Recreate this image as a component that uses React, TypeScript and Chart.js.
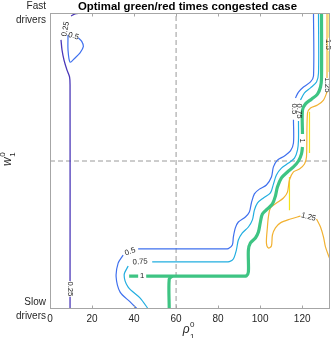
import React, { useEffect, useRef } from "react";
import { Chart, registerables } from "chart.js";

Chart.register(...registerables);

type P = [number, number];

const TITLE = "Optimal green/red times congested case";
const X_MIN = 0;
const X_MAX = 133;
const X_TICKS = [0, 20, 40, 60, 80, 100, 120];
const Y_TICKS = [0, 1];
const Y_TICK_LABELS: Record<number, string[]> = { 0: ["Slow", "drivers"], 1: ["Fast", "drivers"] };
const REF_X = 60;
const REF_Y = 0.5;

// contour level 0.25
const lvl025A: P[] = [[14.3, 1.0], [11.92, 0.997], [10.01, 0.99]];
const lvl025B: P[] = [[5.24, 0.909], [5.72, 0.875], [6.67, 0.841], [8.1, 0.807], [9.3, 0.784], [9.54, 0.757], [9.54, 0.095]];
const lvl025C: P[] = [[9.54, 0.041], [9.54, 0]];

// contour level 0.5
const lvl05Loop: P[] = [[8.58, 0.926], [8.58, 0.875], [9.54, 0.834], [11.92, 0.848], [14.3, 0.865], [15.89, 0.887], [15.1, 0.904], [13.51, 0.916]];
const lvl05A: P[] = [[41.48, 0], [38.14, 0.024], [33.37, 0.057], [31.47, 0.108], [32.42, 0.155], [34.8, 0.182]];
const lvl05B: P[] = [[41.95, 0.203], [82.5, 0.203], [84.86, 0.204], [86.77, 0.216], [87.25, 0.243], [88.2, 0.274], [89.63, 0.294], [92.97, 0.311], [94.87, 0.328], [95.83, 0.358], [97.26, 0.389], [99.64, 0.405], [102.98, 0.419], [105.36, 0.446], [106.32, 0.48], [108.22, 0.503], [111.56, 0.517], [114.42, 0.534], [115.85, 0.561], [115.85, 0.639]];
const lvl05C: P[] = [[116.81, 0.713], [118.24, 0.733], [120.62, 0.75], [123.96, 0.767], [125.39, 0.787], [125.39, 1.0]];

// contour level 0.75
const lvl075A: P[] = [[46.72, 0], [42.91, 0.037], [37.19, 0.074], [35.28, 0.115], [37.19, 0.145]];
const lvl075B: P[] = [[48.63, 0.159], [83.0, 0.159], [85.34, 0.16], [87.25, 0.169], [88.68, 0.199], [89.63, 0.233], [91.54, 0.257], [94.4, 0.277], [96.31, 0.301], [97.26, 0.334], [98.69, 0.358], [101.55, 0.375], [104.89, 0.392], [106.32, 0.422], [107.75, 0.453], [110.13, 0.476], [113.47, 0.493], [116.33, 0.51], [117.76, 0.537], [118.24, 0.571], [118.24, 0.635]];
const lvl075C: P[] = [[119.19, 0.706], [121.1, 0.73], [123.96, 0.747], [126.82, 0.767], [127.77, 0.797], [127.77, 1.0]];

// contour level 1
const lvl1Stub: P[] = [[56.73, 0], [56.73, 0.101], [58.16, 0.111]];
const lvl1A: P[] = [[37.66, 0.111], [41.95, 0.111]];
const lvl1B: P[] = [[45.77, 0.111], [91.5, 0.111], [93.44, 0.112], [94.4, 0.125], [94.4, 0.199], [95.35, 0.223], [97.74, 0.24], [99.17, 0.26], [100.12, 0.294], [101.07, 0.321], [103.46, 0.338], [105.84, 0.355], [107.27, 0.382], [108.22, 0.412], [110.13, 0.443], [112.99, 0.463], [115.85, 0.48], [118.24, 0.5], [119.67, 0.524], [120.14, 0.547]];
const lvl1C: P[] = [[120.14, 0.591], [120.14, 0.672], [121.57, 0.693], [124.43, 0.709], [127.29, 0.726], [128.72, 0.75], [129.2, 0.78], [129.2, 1.0]];

// contour level 1.25
const lvl125A: P[] = [[131.82, 1.0], [131.82, 0.78]];
const lvl125B: P[] = [[131.82, 0.733], [130.15, 0.706], [127.29, 0.689], [123.96, 0.679], [122.53, 0.662], [122.05, 0.514], [121.1, 0.49], [118.71, 0.473], [115.85, 0.463], [113.95, 0.436], [112.99, 0.395], [111.08, 0.375], [107.75, 0.358], [104.89, 0.341], [103.93, 0.311], [103.46, 0.277], [102.98, 0.223], [103.93, 0.206], [105.36, 0.213], [105.84, 0.25], [107.27, 0.274], [109.65, 0.291], [114.42, 0.304], [119.19, 0.314]];
const lvl125C: P[] = [[126.82, 0.304], [128.72, 0.277], [130.15, 0.243], [131.11, 0.209], [133.0, 0.172]];

// contour level 1.5
const lvl15A: P[] = [[132.8, 1.0], [132.8, 0.916]];
const lvl15B: P[] = [[132.8, 0.872], [132.8, 0.801]];
const lvl15C: P[] = [[123.48, 0.666], [123.48, 0.527]];
const lvl15D: P[] = [[113.95, 0.446], [113.95, 0.334]];

const contourLabels = [
  { text: "0.25", x: 7.39, y: 0.946, rot: -80 },
  { text: "0.25", x: 9.54, y: 0.068, rot: 90 },
  { text: "0.5", x: 11.2, y: 0.922, rot: 15 },
  { text: "0.5", x: 38.14, y: 0.194, rot: -20 },
  { text: "0.5", x: 116.2, y: 0.676, rot: 90 },
  { text: "0.75", x: 42.91, y: 0.159, rot: -4 },
  { text: "0.75", x: 118.6, y: 0.669, rot: 90 },
  { text: "1", x: 43.86, y: 0.111, rot: 0 },
  { text: "1", x: 120.14, y: 0.569, rot: 90 },
  { text: "1.25", x: 131.82, y: 0.757, rot: 90 },
  { text: "1.25", x: 123.0, y: 0.311, rot: 15 },
  { text: "1.5", x: 132.5, y: 0.894, rot: 90 },
];

const C025 = "#4a37b8";
const C05 = "#3f70ee";
const C075 = "#22aee0";
const C1 = "#3ec483";
const C125 = "#f2b232";
const C15 = "#f2e41a";
const FONT = '"Liberation Sans", Arial, Helvetica, sans-serif';

function line(pts: P[], color: string, width: number, order = 1) {
  return {
    type: "line" as const,
    data: pts.map(([x, y]) => ({ x, y })),
    borderColor: color,
    backgroundColor: color,
    borderWidth: width,
    pointRadius: 0,
    tension: 0.3,
    fill: false,
    order,
    borderJoinStyle: "round" as const,
    borderCapStyle: "butt" as const,
  };
}

const overlay = {
  id: "overlay",
  afterDatasetsDraw(chart: any) {
    const { ctx, chartArea, scales } = chart;
    const { left, right, top, bottom } = chartArea;
    const xs = scales.x;
    const ys = scales.y;
    ctx.save();
    // contour labels
    ctx.fillStyle = "#1e1e1e";
    ctx.font = `7.7px ${FONT}`;
    ctx.textAlign = "center";
    ctx.textBaseline = "middle";
    for (const l of contourLabels) {
      ctx.save();
      ctx.translate(xs.getPixelForValue(l.x), ys.getPixelForValue(l.y));
      ctx.rotate((l.rot * Math.PI) / 180);
      ctx.fillText(l.text, 0, 0);
      ctx.restore();
    }
    // box
    ctx.strokeStyle = "#a6a6a6";
    ctx.lineWidth = 1;
    const L = Math.round(left) + 0.5;
    const R = Math.round(right) - 0.5;
    const T = Math.round(top) + 0.5;
    const B = Math.round(bottom) - 0.5;
    ctx.strokeRect(L, T, R - L, B - T);
    // inward tick marks
    ctx.beginPath();
    for (const v of X_TICKS) {
      const px = Math.round(xs.getPixelForValue(v)) + 0.5;
      ctx.moveTo(px, B);
      ctx.lineTo(px, B - 3);
      ctx.moveTo(px, T);
      ctx.lineTo(px, T + 3);
    }
    ctx.stroke();
    ctx.restore();
  },
  afterDraw(chart: any) {
    const { ctx, chartArea } = chart;
    ctx.save();
    // title
    ctx.fillStyle = "#000";
    ctx.font = `bold 11.4px ${FONT}`;
    ctx.textAlign = "center";
    ctx.textBaseline = "alphabetic";
    ctx.fillText(TITLE, 187.5, 9.5);
    // x axis title
    ctx.fillStyle = "#262626";
    ctx.textAlign = "left";
    ctx.font = `italic 12px ${FONT}`;
    const cx = (chartArea.left + chartArea.right) / 2 - 7;
    ctx.fillText("ρ", cx, 333);
    const rw = ctx.measureText("ρ").width;
    ctx.font = `8px ${FONT}`;
    ctx.fillText("0", cx + rw + 0.5, 327);
    ctx.fillText("1", cx + rw + 0.5, 339);
    // y axis title
    ctx.save();
    ctx.translate(11, 166);
    ctx.rotate(-Math.PI / 2);
    ctx.font = `italic 12px ${FONT}`;
    ctx.fillText("w", 0, 0);
    const ww = ctx.measureText("w").width;
    ctx.font = `8px ${FONT}`;
    ctx.fillText("0", ww + 0.5, -6);
    ctx.fillText("1", ww + 0.5, 3.5);
    ctx.restore();
    ctx.restore();
  },
};

export default function App() {
  const ref = useRef<HTMLCanvasElement>(null);
  useEffect(() => {
    const canvas = ref.current;
    if (!canvas) return;
    const datasets: any[] = [
      { ...line([[REF_X, 0], [REF_X, 1]], "#9a9a9a", 1, 5), borderDash: [5, 3], tension: 0 },
      { ...line([[X_MIN, REF_Y], [X_MAX, REF_Y]], "#9a9a9a", 1, 5), borderDash: [5, 3], tension: 0 },
      line(lvl025A, C025, 1.3),
      line(lvl025B, C025, 1.3),
      line(lvl025C, C025, 1.3),
      line(lvl05Loop, C05, 1.2),
      line(lvl05A, C05, 1.2),
      line(lvl05B, C05, 1.2),
      line(lvl05C, C05, 1.2),
      line(lvl075A, C075, 1.2),
      line(lvl075B, C075, 1.2),
      line(lvl075C, C075, 1.2),
      line(lvl1Stub, C1, 3.2),
      line(lvl1A, C1, 3.2),
      line(lvl1B, C1, 3.2),
      line(lvl1C, C1, 3.2),
      line(lvl125A, C125, 1.2),
      line(lvl125B, C125, 1.2),
      line(lvl125C, C125, 1.2),
      line(lvl15A, C15, 1.2),
      line(lvl15B, C15, 1.2),
      line(lvl15C, C15, 1.2),
      line(lvl15D, C15, 1.2),
    ];
    const chart = new Chart(canvas, {
      type: "line",
      data: { datasets },
      options: {
        responsive: false,
        devicePixelRatio: 1,
        animation: false,
        events: [],
        layout: { padding: { top: 13, right: 2.5, left: 0, bottom: 0 } },
        plugins: {
          legend: { display: false },
          title: { display: false },
          tooltip: { enabled: false },
        },
        scales: {
          x: {
            type: "linear",
            min: X_MIN,
            max: X_MAX,
            afterBuildTicks: (s: any) => {
              s.ticks = X_TICKS.map((v) => ({ value: v }));
            },
            afterFit: (s: any) => {
              s.height = 29;
              s.paddingLeft = 0;
              s.paddingRight = 0;
            },
            grid: { display: false, drawTicks: false },
            border: { display: false },
            ticks: {
              padding: 4,
              color: "#262626",
              font: { family: FONT, size: 10 },
              maxRotation: 0,
              autoSkip: false,
            },
          },
          y: {
            type: "linear",
            min: 0,
            max: 1,
            afterBuildTicks: (s: any) => {
              s.ticks = Y_TICKS.map((v) => ({ value: v }));
            },
            afterFit: (s: any) => {
              s.width = 50;
              s.paddingTop = 0;
              s.paddingBottom = 0;
            },
            grid: { display: false, drawTicks: false },
            border: { display: false },
            ticks: {
              padding: 4,
              color: "#262626",
              font: { family: FONT, size: 10, lineHeight: 1.4 },
              autoSkip: false,
              callback: (v: any) => Y_TICK_LABELS[v as number] ?? "",
            },
          },
        },
      },
      plugins: [overlay],
    });
    return () => chart.destroy();
  }, []);
  return (
    <div style={{ position: "fixed", left: 0, top: 0, width: 332, height: 338, background: "#fff" }}>
      <canvas ref={ref} width={332} height={338} style={{ display: "block", width: 332, height: 338 }} />
    </div>
  );
}
